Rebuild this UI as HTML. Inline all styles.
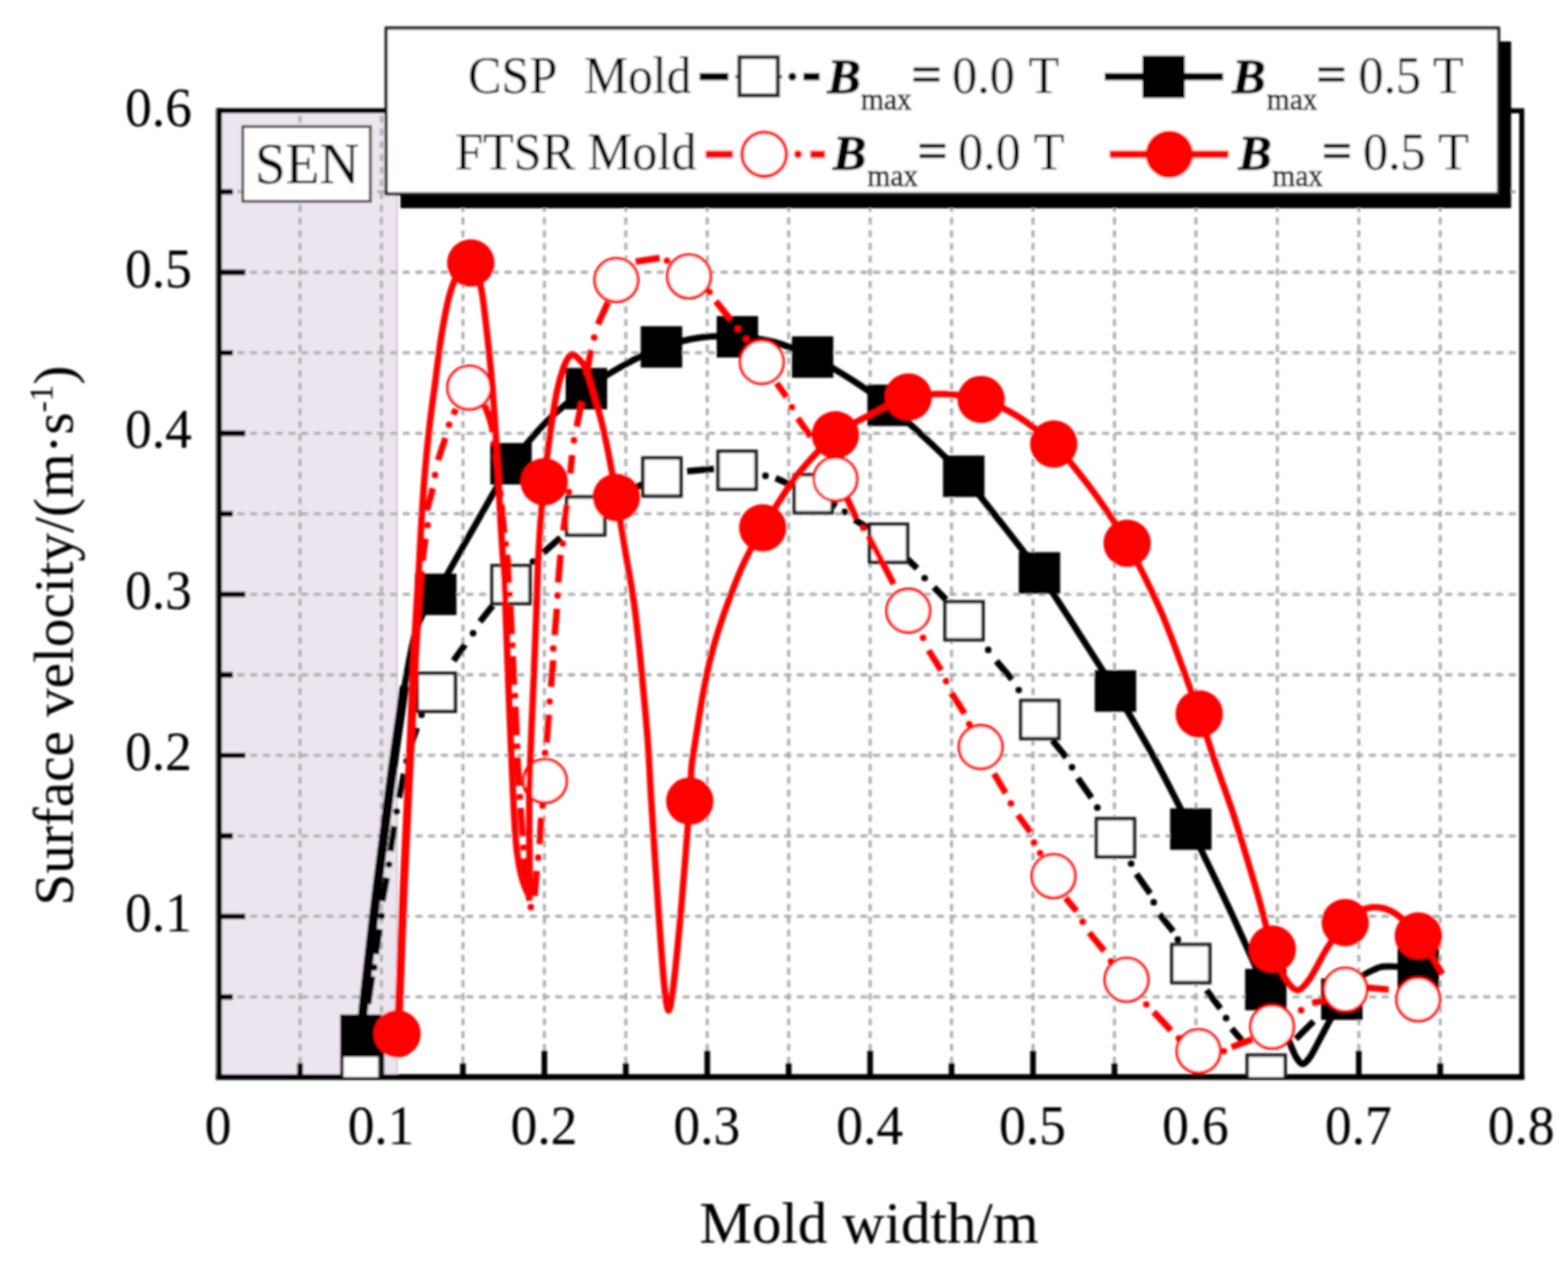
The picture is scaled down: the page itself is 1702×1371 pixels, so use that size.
<!DOCTYPE html>
<html lang="en"><head><meta charset="utf-8"><title>Surface velocity vs mold width</title>
<style>
html,body{margin:0;padding:0;background:#fff;}
body{width:1702px;height:1371px;overflow:hidden;}
svg{display:block;font-family:"Liberation Serif","DejaVu Serif",serif;}
text{fill:#000;stroke:#000;stroke-width:0.12px;}
.tk{font-size:61px;}
.lg{font-size:54.5px;}
.sub{font-size:32px;stroke-width:0.6px;}
.bi{font-weight:bold;font-style:italic;}
</style></head><body>
<svg width="1702" height="1371" viewBox="0 0 1702 1371">
<defs><filter id="soft" x="-2%" y="-2%" width="104%" height="104%"><feGaussianBlur stdDeviation="1.1"/></filter>
<clipPath id="plot"><rect x="237.8" y="120.2" width="1414.0" height="1048.8"/></clipPath></defs>
<rect width="1702" height="1371" fill="#fff"/>
<g filter="url(#soft)">
<rect x="237.8" y="120.2" width="193.2" height="1048.8" fill="#ece4ee"/>
<line x1="431" y1="120.2" x2="431" y2="1169.0" stroke="#c9c4cc" stroke-width="1.6"/>
<path d="M325.7 125.7 V1169.0 M414.1 125.7 V1169.0 M502.5 125.7 V1169.0 M590.9 125.7 V1169.0 M679.3 125.7 V1169.0 M767.7 125.7 V1169.0 M856.1 125.7 V1169.0 M944.5 125.7 V1169.0 M1032.9 125.7 V1169.0 M1121.3 125.7 V1169.0 M1209.7 125.7 V1169.0 M1298.1 125.7 V1169.0 M1386.5 125.7 V1169.0 M1474.9 125.7 V1169.0 M1563.3 125.7 V1169.0 M244.0 1082.1 H1651.8 M244.0 994.7 H1651.8 M244.0 907.3 H1651.8 M244.0 819.9 H1651.8 M244.0 732.5 H1651.8 M244.0 645.1 H1651.8 M244.0 557.7 H1651.8 M244.0 470.3 H1651.8 M244.0 382.9 H1651.8 M244.0 295.5 H1651.8 M244.0 208.1 H1651.8" fill="none" stroke="#adadad" stroke-width="3.3" stroke-dasharray="7.6 6.2"/>
<path d="M237.8 120.2 H1651.8 V1169.0 H237.8 Z" fill="none" stroke="#000" stroke-width="5.5"/>
<path d="M235.2 117.5 V1172.0" fill="none" stroke="#8a8a8a" stroke-width="2.6"/>
<path d="M237.9 117.5 V1172.0" fill="none" stroke="#000" stroke-width="5.6"/>
<path d="M234.5 1169.1 H1654.5" fill="none" stroke="#000" stroke-width="6.2"/>
<path d="M325.7 1169.0 V1154.0 M414.1 1169.0 V1140.5 M502.5 1169.0 V1154.0 M590.9 1169.0 V1140.5 M679.3 1169.0 V1154.0 M767.7 1169.0 V1140.5 M856.1 1169.0 V1154.0 M944.5 1169.0 V1140.5 M1032.9 1169.0 V1154.0 M1121.3 1169.0 V1140.5 M1209.7 1169.0 V1154.0 M1298.1 1169.0 V1140.5 M1386.5 1169.0 V1154.0 M1474.9 1169.0 V1140.5 M1563.3 1169.0 V1154.0 M237.8 1082.2 H252.8 M237.8 994.8 H266.3 M237.8 907.4 H252.8 M237.8 820.0 H266.3 M237.8 732.6 H252.8 M237.8 645.2 H266.3 M237.8 557.8 H252.8 M237.8 470.4 H266.3 M237.8 383.0 H252.8 M237.8 295.6 H266.3 M237.8 208.2 H252.8" fill="none" stroke="#000" stroke-width="6.1"/>
<g clip-path="url(#plot)">
<path d="M404.0 1059.8L399.5 1090.0M411.9 1008.6L407.9 1035.8M419.9 952.7L415.1 978.3M427.9 896.8L423.9 923.9M433.0 866.0L438.5 840.0M444.5 813.0L452.5 790.0M492.3 717.3L504.8 699.8M521.0 674.8L534.8 657.4M589.7 600.0L608.4 583.7M680.0 534.0L697.0 526.0M745.9 511.6L774.9 509.0M841.9 519.0L861.0 527.5M903.0 546.5L908.0 549.3M927.5 564.0L942.0 573.0M984.0 606.0L995.5 617.0M1013.7 637.5L1027.0 651.0M1081.5 717.6L1098.6 737.5M1142.4 803.6L1157.4 822.3M1169.9 844.8L1184.8 866.0M1233.5 948.7L1248.5 969.9M1258.5 992.4L1273.5 1011.1M1309.7 1074.8L1324.7 1094.8M1337.0 1116.5L1348.0 1129.5M1406.7 1127.8L1425.9 1108.6" fill="none" stroke="#000" stroke-width="7.0"/><g fill="#000"><circle cx="406.3" cy="1050.2" r="3.6"/><circle cx="414.3" cy="994.2" r="3.6"/><circle cx="422.3" cy="938.3" r="3.6"/><circle cx="430.3" cy="880.8" r="3.6"/><circle cx="441.5" cy="826.0" r="3.6"/><circle cx="457.5" cy="776.0" r="3.6"/><circle cx="513.5" cy="687.3" r="3.6"/><circle cx="578.5" cy="609.5" r="3.6"/><circle cx="830.9" cy="516.4" r="3.6"/><circle cx="917.0" cy="555.6" r="3.6"/><circle cx="1003.7" cy="627.5" r="3.6"/><circle cx="1072.7" cy="705.4" r="3.6"/><circle cx="1105.8" cy="749.0" r="3.6"/><circle cx="1163.6" cy="832.8" r="3.6"/><circle cx="1191.1" cy="876.7" r="3.6"/><circle cx="1227.8" cy="937.5" r="3.6"/><circle cx="1252.3" cy="979.4" r="3.6"/><circle cx="1278.5" cy="1019.9" r="3.6"/><circle cx="1330.9" cy="1105.2" r="3.6"/></g>
<g fill="#fff" stroke="#1c1c1c" stroke-width="3.8"><rect x="371.2" y="1145.4" width="41.2" height="41.2"/><rect x="453.0" y="730.9" width="41.2" height="41.2"/><rect x="534.1" y="614.0" width="41.2" height="41.2"/><rect x="615.2" y="539.5" width="41.2" height="41.2"/><rect x="697.9" y="497.2" width="41.2" height="41.2"/><rect x="779.5" y="489.9" width="41.2" height="41.2"/><rect x="862.2" y="515.4" width="41.2" height="41.2"/><rect x="943.9" y="569.1" width="41.2" height="41.2"/><rect x="1025.8" y="653.3" width="41.2" height="41.2"/><rect x="1108.1" y="760.5" width="41.2" height="41.2"/><rect x="1190.2" y="888.7" width="41.2" height="41.2"/><rect x="1272.0" y="1025.4" width="41.2" height="41.2"/><rect x="1353.8" y="1145.4" width="41.2" height="41.2"/></g>
<path d="M393.0 1110.0C393.5 1104.8 393.5 1101.5 396.0 1079.0C398.5 1056.5 404.0 1007.8 408.0 975.0C412.0 942.2 416.9 905.3 419.9 882.0C422.9 858.7 423.9 850.3 426.0 835.0C428.1 819.7 430.2 805.0 432.4 790.0C434.6 775.0 437.9 752.5 439.0 745.0" fill="none" stroke="#000" stroke-width="10.2"/>
<path d="M391.8 1123.8C392.3 1118.2 394.0 1097.6 396.0 1079.0C398.0 1060.4 405.0 999.6 408.0 975.0C411.0 950.4 417.6 899.5 419.9 882.0C422.1 864.5 424.4 846.5 426.0 835.0C427.6 823.5 430.6 801.9 432.4 790.0C434.1 778.1 437.8 752.5 440.0 740.0C442.2 727.5 447.4 699.8 450.0 690.0C452.6 680.2 458.1 667.6 461.0 662.0C463.9 656.4 466.5 656.1 473.0 645.2C479.5 634.3 502.8 592.7 513.0 575.0C523.2 557.3 544.5 518.3 554.7 503.4C565.0 488.5 584.8 466.2 595.0 456.0C605.2 445.8 626.2 429.3 636.5 421.9C646.8 414.5 666.8 402.2 677.0 396.5C687.2 390.8 707.7 380.4 718.0 376.6C728.3 372.9 749.2 367.9 759.5 366.5C769.8 365.1 790.2 365.0 800.4 365.6C810.6 366.2 830.8 368.8 841.0 371.5C851.2 374.2 871.8 382.6 882.0 387.6C892.2 392.6 912.8 404.8 923.0 411.3C933.2 417.9 953.8 431.9 964.0 440.0C974.2 448.1 994.7 466.7 1005.0 476.3C1015.3 485.9 1035.8 505.5 1046.1 517.0C1056.4 528.5 1076.9 555.1 1087.2 568.2C1097.5 581.3 1118.0 607.3 1128.3 621.9C1138.6 636.5 1159.2 669.0 1169.5 685.0C1179.8 701.0 1200.4 732.9 1210.8 750.1C1221.2 767.4 1242.8 804.3 1253.0 823.0C1263.2 841.7 1282.5 879.7 1292.6 900.0C1302.7 920.3 1323.8 963.7 1334.0 985.5C1344.2 1007.3 1366.4 1057.4 1374.0 1074.2C1381.6 1091.0 1391.0 1111.0 1395.0 1120.0C1399.0 1129.0 1403.6 1141.6 1406.0 1146.0C1408.4 1150.4 1411.9 1155.0 1414.0 1155.0C1416.1 1155.0 1420.0 1150.6 1423.0 1146.0C1426.0 1141.4 1433.8 1125.7 1438.0 1118.0C1442.2 1110.3 1451.9 1091.6 1456.5 1084.6C1461.1 1077.6 1469.8 1066.3 1475.0 1062.0C1480.2 1057.7 1492.1 1051.6 1497.7 1050.0C1503.3 1048.4 1514.8 1049.3 1520.0 1049.5C1525.2 1049.7 1537.1 1051.2 1539.5 1051.5" fill="none" stroke="#000" stroke-width="7.0" stroke-linejoin="round"/>
<g fill="#000"><rect x="369.3" y="1101.3" width="45.0" height="45.0"/><rect x="450.5" y="622.7" width="45.0" height="45.0"/><rect x="532.2" y="480.9" width="45.0" height="45.0"/><rect x="614.0" y="399.4" width="45.0" height="45.0"/><rect x="695.5" y="354.1" width="45.0" height="45.0"/><rect x="777.9" y="343.1" width="45.0" height="45.0"/><rect x="859.5" y="365.1" width="45.0" height="45.0"/><rect x="941.5" y="417.5" width="45.0" height="45.0"/><rect x="1023.6" y="494.5" width="45.0" height="45.0"/><rect x="1105.8" y="599.4" width="45.0" height="45.0"/><rect x="1188.3" y="727.6" width="45.0" height="45.0"/><rect x="1270.1" y="877.5" width="45.0" height="45.0"/><rect x="1351.5" y="1051.7" width="45.0" height="45.0"/><rect x="1434.0" y="1062.1" width="45.0" height="45.0"/><rect x="1517.0" y="1029.0" width="45.0" height="45.0"/></g>
<path d="M433.6 1110.0C433.8 1104.8 433.7 1102.3 434.6 1079.0C435.5 1055.7 437.2 1006.5 438.8 970.0C440.4 933.5 442.8 885.0 444.0 860.0C445.2 835.0 445.2 835.0 446.0 820.0C446.8 805.0 447.6 788.0 448.5 770.0C449.4 752.0 450.3 730.3 451.3 712.0C452.3 693.7 453.5 675.3 454.5 660.0C455.5 644.7 457.0 626.7 457.5 620.0" fill="none" stroke="#fe0000" stroke-width="7.0"/>
<path d="M526.0 439.7C527.2 443.4 531.3 451.9 533.5 462.0C535.7 472.1 537.3 487.0 539.0 500.0C540.7 513.0 542.1 526.7 543.5 540.0C544.9 553.3 546.1 566.7 547.5 580.0C548.9 593.3 550.8 603.3 552.0 620.0C553.2 636.7 554.1 661.3 555.0 680.0C555.9 698.7 556.7 715.3 557.5 732.0C558.3 748.7 559.2 763.8 560.0 780.0C560.8 796.2 561.0 810.7 562.0 829.0C563.0 847.3 564.6 870.7 566.0 890.0C567.4 909.3 568.8 929.0 570.5 945.0C572.2 961.0 575.1 979.2 576.0 986.0" fill="none" stroke="#fe0000" stroke-width="7.0" stroke-dasharray="31 9 6 9"/>
<path d="M458.6 608.7L461.8 584.6M463.4 554.1L469.8 530.0M475.4 499.5L483.5 475.4M492.0 450.0L495.0 444.0M580.2 972.6L582.6 945.4M585.8 916.5L587.4 887.6M593.3 806.2L595.7 775.8M598.1 745.5L600.5 716.7M602.1 689.5L604.5 660.8M605.9 632.4L608.4 602.4M611.5 576.0L615.5 548.0M619.0 514.0L621.0 494.0M626.0 463.0L631.5 436.0M636.5 407.0L641.5 380.0M649.0 352.0L660.0 328.0M690.0 284.0L716.0 280.0M777.0 327.0L793.0 347.0M843.0 416.0L854.0 431.0M866.0 454.0L880.0 474.0M919.0 540.0L929.5 562.5M943.0 582.0L970.0 634.0M1008.0 706.0L1021.5 727.6M1032.5 752.0L1047.1 774.7M1079.0 839.7L1091.6 861.0M1104.9 884.7L1118.7 903.5M1156.7 974.8L1168.6 989.0M1182.3 1012.4L1198.6 1032.3M1252.3 1098.5L1271.0 1118.5M1336.8 1136.8L1359.0 1128.2M1424.3 1088.7L1440.3 1085.5M1483.4 1071.9L1507.4 1074.3" fill="none" stroke="#fe0000" stroke-width="7.0"/><g fill="#fe0000"><circle cx="464.2" cy="570.0" r="3.6"/><circle cx="472.2" cy="515.6" r="3.6"/><circle cx="487.5" cy="461.0" r="3.6"/><circle cx="576.2" cy="984.7" r="3.6"/><circle cx="584.2" cy="930.9" r="3.6"/><circle cx="589.0" cy="874.7" r="3.6"/><circle cx="591.7" cy="817.4" r="3.6"/><circle cx="596.5" cy="761.5" r="3.6"/><circle cx="600.5" cy="703.9" r="3.6"/><circle cx="605.3" cy="646.4" r="3.6"/><circle cx="610.9" cy="590.0" r="3.6"/><circle cx="617.5" cy="534.0" r="3.6"/><circle cx="623.0" cy="477.9" r="3.6"/><circle cx="645.0" cy="366.3" r="3.6"/><circle cx="724.0" cy="283.0" r="3.6"/><circle cx="770.0" cy="317.0" r="3.6"/><circle cx="800.9" cy="357.0" r="3.6"/><circle cx="810.0" cy="368.0" r="3.6"/><circle cx="859.5" cy="442.0" r="3.6"/><circle cx="937.0" cy="573.0" r="3.6"/><circle cx="1002.0" cy="692.3" r="3.6"/><circle cx="1027.0" cy="739.3" r="3.6"/><circle cx="1052.1" cy="786.0" r="3.6"/><circle cx="1097.3" cy="872.2" r="3.6"/><circle cx="1122.4" cy="914.7" r="3.6"/><circle cx="1129.0" cy="926.0" r="3.6"/><circle cx="1175.2" cy="1000.4" r="3.6"/><circle cx="1206.0" cy="1043.6" r="3.6"/><circle cx="1244.3" cy="1090.3" r="3.6"/><circle cx="1279.7" cy="1127.2" r="3.6"/><circle cx="1328.4" cy="1141.0" r="3.6"/><circle cx="1412.3" cy="1096.6" r="3.6"/></g>
<g fill="#fff" stroke="#fe0000" stroke-width="3.1"><circle cx="509.3" cy="420.8" r="23.5"/><circle cx="591.5" cy="847.7" r="23.5"/><circle cx="669.0" cy="304.0" r="23.5"/><circle cx="747.9" cy="300.0" r="23.5"/><circle cx="826.9" cy="392.9" r="23.5"/><circle cx="906.8" cy="520.0" r="23.5"/><circle cx="985.9" cy="662.9" r="23.5"/><circle cx="1064.5" cy="810.9" r="23.5"/><circle cx="1143.6" cy="951.0" r="23.5"/><circle cx="1222.8" cy="1063.5" r="23.5"/><circle cx="1301.0" cy="1141.0" r="23.5"/><circle cx="1380.8" cy="1114.5" r="23.5"/><circle cx="1460.3" cy="1074.3" r="23.5"/><circle cx="1539.4" cy="1084.7" r="23.5"/></g>
<path d="M431.0 1122.2C431.2 1116.1 431.8 1100.6 432.7 1079.0C433.6 1057.4 435.6 1001.0 437.0 970.0C438.4 939.0 441.3 881.2 442.3 860.0C443.3 838.8 443.6 832.8 444.2 820.0C444.8 807.2 445.8 785.3 446.5 770.0C447.2 754.7 448.2 727.6 449.0 712.0C449.8 696.4 451.2 673.7 452.0 660.0C452.8 646.3 454.0 628.3 454.8 615.0C455.6 601.7 456.6 580.6 457.5 566.0C458.4 551.4 460.0 527.0 461.3 512.0C462.6 497.0 465.0 473.3 466.5 460.0C468.0 446.7 470.2 431.5 472.0 418.0C473.8 404.5 476.7 378.9 479.0 365.0C481.3 351.1 485.2 330.1 488.0 320.0C490.8 309.9 495.7 298.9 499.0 294.0C502.3 289.1 508.3 285.0 511.0 285.4C513.7 285.8 516.2 292.1 518.0 297.0C519.8 301.9 521.9 310.4 523.5 320.0C525.1 329.6 527.4 350.8 529.0 365.0C530.6 379.2 533.2 405.1 534.5 420.0C535.8 434.9 537.1 457.2 538.0 470.0C538.9 482.8 539.8 497.2 540.5 510.0C541.2 522.8 542.3 547.2 543.0 560.0C543.7 572.8 544.8 588.7 545.5 600.0C546.2 611.3 547.2 621.3 548.0 640.0C548.8 658.7 550.4 705.2 551.4 732.0C552.4 758.8 554.3 804.1 555.4 829.0C556.5 853.9 558.4 892.3 559.5 908.0C560.6 923.7 562.3 932.9 563.5 940.0C564.7 947.1 566.4 953.5 568.0 958.0C569.6 962.5 573.5 972.4 574.5 972.0C575.5 971.6 575.0 965.2 575.0 955.0C575.0 944.8 574.5 914.9 574.5 900.0C574.5 885.1 574.4 865.6 574.8 850.0C575.2 834.4 576.3 806.7 577.0 790.0C577.7 773.3 578.8 749.0 579.5 732.0C580.2 715.0 581.4 685.9 582.0 670.0C582.6 654.1 583.1 634.2 583.7 620.0C584.3 605.8 585.5 583.8 586.5 570.0C587.5 556.2 589.6 534.0 590.7 522.7C591.8 511.4 593.3 499.2 594.5 490.0C595.7 480.8 597.6 467.2 599.0 458.0C600.4 448.8 602.7 433.4 604.5 425.0C606.3 416.6 609.9 404.2 611.7 399.0C613.5 393.8 615.6 390.0 617.0 388.0C618.4 386.0 620.2 384.7 621.5 384.7C622.8 384.7 624.5 386.0 626.5 388.0C628.5 390.0 632.9 393.1 635.5 399.0C638.1 404.9 642.5 421.6 645.0 430.0C647.5 438.4 650.7 448.8 653.0 458.0C655.3 467.2 658.7 483.4 661.0 495.0C663.3 506.6 666.5 525.1 669.0 540.0C671.5 554.9 676.1 582.3 679.0 600.0C681.9 617.7 686.3 638.1 689.6 665.0C692.9 691.9 699.5 761.0 702.0 790.0C704.5 819.0 705.2 842.4 707.0 870.0C708.8 897.6 712.5 956.7 714.5 985.0C716.5 1013.3 719.4 1054.1 721.0 1070.0C722.6 1085.9 724.4 1097.0 725.8 1097.0C727.2 1097.0 729.1 1085.9 731.0 1070.0C732.9 1054.1 737.0 1013.4 739.5 985.0C742.0 956.6 747.1 891.0 748.7 869.6C750.3 848.2 749.8 842.4 750.5 834.0C751.2 825.6 752.3 820.5 753.9 810.0C755.5 799.5 759.6 772.8 761.9 760.0C764.2 747.2 767.4 730.8 769.9 720.0C772.4 709.2 776.5 694.8 779.9 684.0C783.3 673.2 789.9 654.5 793.9 644.0C797.9 633.5 803.1 620.1 807.9 610.0C812.7 599.9 819.7 586.4 827.9 572.9C836.1 559.4 854.8 529.3 866.0 515.0C877.2 500.7 895.4 481.3 906.8 472.0C918.2 462.7 935.1 455.1 946.3 449.3C957.5 443.5 974.8 434.0 985.9 431.0C997.0 428.0 1013.8 427.4 1025.0 427.8C1036.2 428.2 1053.8 430.2 1065.0 433.6C1076.2 437.0 1092.8 444.6 1104.0 451.5C1115.2 458.4 1134.4 473.4 1143.8 482.0C1153.2 490.6 1162.9 503.1 1170.4 512.5C1177.9 521.9 1189.4 537.1 1196.9 548.0C1204.4 558.9 1214.3 572.7 1223.5 589.7C1232.7 606.7 1250.9 641.8 1262.0 668.0C1273.1 694.2 1293.7 752.5 1301.7 774.9C1309.7 797.3 1313.4 811.1 1318.5 826.0C1323.6 840.9 1332.6 865.3 1337.5 880.0C1342.4 894.7 1349.0 916.7 1353.0 930.0C1357.0 943.3 1362.9 963.0 1366.0 974.0C1369.1 985.0 1372.9 1000.0 1375.0 1008.0C1377.1 1016.0 1378.3 1022.6 1381.1 1030.3C1383.9 1038.0 1391.1 1055.7 1395.0 1062.0C1398.9 1068.3 1404.5 1075.0 1408.3 1075.0C1412.1 1075.0 1417.5 1068.4 1422.0 1062.0C1426.5 1055.6 1434.6 1038.6 1440.0 1030.0C1445.4 1021.4 1455.1 1007.3 1460.2 1001.5C1465.3 995.7 1471.4 991.4 1476.0 989.0C1480.6 986.6 1488.2 984.8 1493.0 984.8C1497.8 984.8 1505.5 986.8 1510.0 989.0C1514.5 991.2 1520.8 996.2 1525.0 1000.0C1529.2 1003.8 1535.5 1010.8 1539.5 1015.9C1543.5 1021.0 1549.3 1030.1 1553.0 1036.0C1556.7 1041.9 1563.8 1054.4 1565.6 1057.4" fill="none" stroke="#fe0000" stroke-width="7.0" stroke-linejoin="round"/>
<g fill="#fe0000"><circle cx="431.0" cy="1122.2" r="25.7"/><circle cx="511.0" cy="285.4" r="25.7"/><circle cx="590.7" cy="522.9" r="25.7"/><circle cx="669.0" cy="540.0" r="25.7"/><circle cx="748.7" cy="869.6" r="25.7"/><circle cx="827.9" cy="572.9" r="25.7"/><circle cx="906.8" cy="472.0" r="25.7"/><circle cx="985.9" cy="431.0" r="25.7"/><circle cx="1065.0" cy="433.6" r="25.7"/><circle cx="1143.8" cy="482.0" r="25.7"/><circle cx="1223.5" cy="589.7" r="25.7"/><circle cx="1301.7" cy="774.9" r="25.7"/><circle cx="1381.1" cy="1030.3" r="25.7"/><circle cx="1460.2" cy="1001.5" r="25.7"/><circle cx="1539.5" cy="1015.9" r="25.7"/></g>
</g>
<rect x="263.6" y="137.4" width="138.4" height="81.2" fill="#fff" stroke="#3c3c3c" stroke-width="2.9"/>
<text transform="translate(333.3 198.6) scale(1 1.04)" style="font-size:60px" text-anchor="middle">SEN</text>
<rect x="434.7" y="45" width="1205.6" height="181" fill="#000"/>
<rect x="419.2" y="30.5" width="1207.4" height="180" fill="#fff" stroke="#1c1c1c" stroke-width="3.5"/>
<text transform="translate(508.0 100.8) scale(1.000 1.035)" class="lg">CSP</text>
<text transform="translate(634.0 100.8) scale(0.985 1.035)" class="lg">Mold</text>
<text transform="translate(494.0 184.0) scale(1.000 1.035)" class="lg">FTSR Mold</text>
<path d="M759.5 83.2 H790.5 M872 83.2 H889.5" stroke="#000" stroke-width="8.0" fill="none"/><circle cx="860" cy="83.2" r="4.4"/>
<path d="M798 83.2 h5 M844 83.2 h5" stroke="#222" stroke-width="3" fill="none"/>
<rect x="802.7" y="62" width="41.6" height="41.6" fill="#fff" stroke="#262626" stroke-width="4.4"/>
<path d="M765.8 167.4 H795.5 M879.5 167.4 H895.5" stroke="#fe0000" stroke-width="8.0" fill="none"/><circle cx="866.2" cy="167.4" r="4.4" fill="#fe0000"/>
<circle cx="829.5" cy="167.4" r="24.1" fill="#fff" stroke="#fe0000" stroke-width="3.8"/>
<path d="M1199 83.2 H1327.5" stroke="#000" stroke-width="8.0" fill="none"/>
<rect x="1240.1" y="60.4" width="46" height="46" fill="#000"/>
<path d="M1204.5 167.4 H1333.5" stroke="#fe0000" stroke-width="8.0" fill="none"/>
<circle cx="1269.3" cy="167.4" r="25.7" fill="#fe0000"/>
<text transform="translate(898.0 100.8) scale(1.000 0.975)" class="lg bi" style="stroke-width:0.9px">B</text><text transform="translate(934.5 119.0) scale(1.000 1.080)" class="sub">max</text><text transform="translate(989.4 99.2) scale(1.050 1.000)" class="lg" style="stroke-width:1.3px">=</text><text transform="translate(1033.5 100.8) scale(1.000 1.035)" class="lg">0.0</text><text transform="translate(1116.5 100.8) scale(1.000 1.035)" class="lg">T</text>
<text transform="translate(904.0 184.0) scale(1.000 0.975)" class="lg bi" style="stroke-width:0.9px">B</text><text transform="translate(941.5 202.2) scale(1.000 1.080)" class="sub">max</text><text transform="translate(995.9 182.4) scale(1.050 1.000)" class="lg" style="stroke-width:1.3px">=</text><text transform="translate(1040.0 184.0) scale(1.000 1.035)" class="lg">0.0</text><text transform="translate(1122.0 184.0) scale(1.000 1.035)" class="lg">T</text>
<text transform="translate(1337.5 100.8) scale(1.000 0.975)" class="lg bi" style="stroke-width:0.9px">B</text><text transform="translate(1375.0 119.0) scale(1.000 1.080)" class="sub">max</text><text transform="translate(1428.9 99.2) scale(1.050 1.000)" class="lg" style="stroke-width:1.3px">=</text><text transform="translate(1474.5 100.8) scale(1.000 1.035)" class="lg">0.5</text><text transform="translate(1555.5 100.8) scale(1.000 1.035)" class="lg">T</text>
<text transform="translate(1344.0 184.0) scale(1.000 0.975)" class="lg bi" style="stroke-width:0.9px">B</text><text transform="translate(1381.0 202.2) scale(1.000 1.080)" class="sub">max</text><text transform="translate(1434.9 182.4) scale(1.050 1.000)" class="lg" style="stroke-width:1.3px">=</text><text transform="translate(1479.5 184.0) scale(1.000 1.035)" class="lg">0.5</text><text transform="translate(1561.0 184.0) scale(1.000 1.035)" class="lg">T</text>
<text transform="translate(236.8 1242.2) scale(0.95 1)" class="tk" text-anchor="middle">0</text>
<text transform="translate(413.6 1242.2) scale(0.95 1)" class="tk" text-anchor="middle">0.1</text>
<text transform="translate(590.4 1242.2) scale(0.95 1)" class="tk" text-anchor="middle">0.2</text>
<text transform="translate(767.2 1242.2) scale(0.95 1)" class="tk" text-anchor="middle">0.3</text>
<text transform="translate(944.0 1242.2) scale(0.95 1)" class="tk" text-anchor="middle">0.4</text>
<text transform="translate(1120.8 1242.2) scale(0.95 1)" class="tk" text-anchor="middle">0.5</text>
<text transform="translate(1297.6 1242.2) scale(0.95 1)" class="tk" text-anchor="middle">0.6</text>
<text transform="translate(1474.4 1242.2) scale(0.95 1)" class="tk" text-anchor="middle">0.7</text>
<text transform="translate(1651.2 1242.2) scale(0.95 1)" class="tk" text-anchor="middle">0.8</text>
<text transform="translate(208.2 1010.8) scale(0.95 1)" class="tk" text-anchor="end">0.1</text>
<text transform="translate(208.2 836.0) scale(0.95 1)" class="tk" text-anchor="end">0.2</text>
<text transform="translate(208.2 661.2) scale(0.95 1)" class="tk" text-anchor="end">0.3</text>
<text transform="translate(208.2 486.4) scale(0.95 1)" class="tk" text-anchor="end">0.4</text>
<text transform="translate(208.2 311.6) scale(0.95 1)" class="tk" text-anchor="end">0.5</text>
<text transform="translate(208.2 136.8) scale(0.95 1)" class="tk" text-anchor="end">0.6</text>
<text x="943.3" y="1348.5" style="font-size:64px" text-anchor="middle">Mold width/m</text>
<text transform="translate(79 690) rotate(-90)" style="font-size:62px" text-anchor="middle">Surface velocity/(m·s<tspan dy="-22" style="font-size:36px">-1</tspan><tspan dy="22">)</tspan></text>
</g>
</svg>
</body></html>
